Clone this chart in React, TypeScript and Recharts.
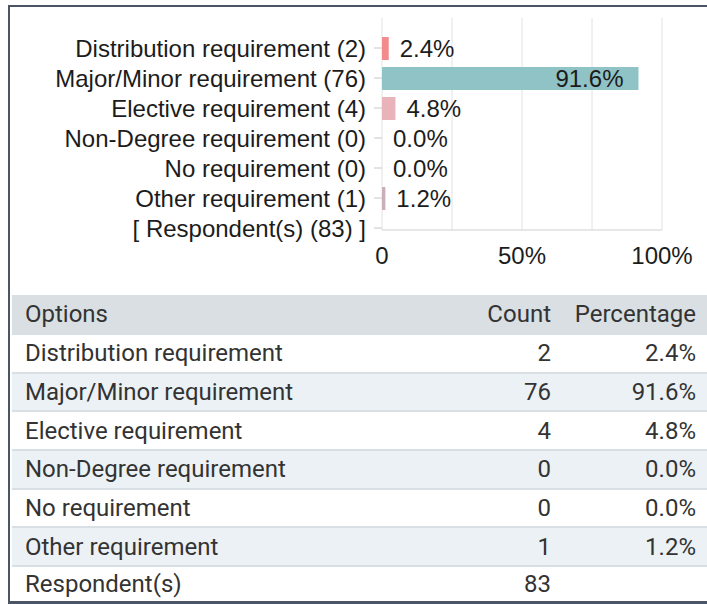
import { BarChart, Bar, XAxis, YAxis, CartesianGrid, Cell, LabelList } from 'recharts';

const options = [
  'Distribution requirement',
  'Major/Minor requirement',
  'Elective requirement',
  'Non-Degree requirement',
  'No requirement',
  'Other requirement',
];
const counts = [2, 76, 4, 0, 0, 1];
const percents = [2.4, 91.6, 4.8, 0.0, 0.0, 1.2];
const respondents = 83;
const xTicks = [0, 25, 50, 75, 100];
const xTickLabels = ['0', '', '50%', '', '100%'];

const barColors = ['#f28b8b', '#8fc3c5', '#e9b4b9', '#cccccc', '#cccccc', '#c8afbb'];
const chartFont = '"Liberation Sans", Arial, sans-serif';
const tableFont = 'Roboto, "Liberation Sans", Arial, sans-serif';

const chartData = [
  ...options.map((name, i) => ({ label: `${name} (${counts[i]})`, pct: percents[i] })),
  { label: `[ Respondent(s) (${respondents}) ]`, pct: null as number | null },
];

function PctLabel(props: any) {
  const { x, y, width, height, value } = props;
  if (value == null) return null;
  const inside = value > 50;
  const tx = inside ? x + width - 15 : x + width + 11;
  return (
    <text
      x={tx}
      y={y + height / 2}
      dy="0.36em"
      textAnchor={inside ? 'end' : 'start'}
      fontSize={24}
      fontFamily={chartFont}
      fill="#1c1c1c"
    >
      {Number(value).toFixed(1)}%
    </text>
  );
}

const rowStyle = (i: number): React.CSSProperties => ({
  display: 'flex',
  alignItems: 'center',
  height: i === options.length ? 36 : 38.67,
  boxSizing: 'border-box',
  borderTop: '2px solid #d9e0e5',
  background: i % 2 === 1 ? '#ecf1f5' : '#ffffff',
});

function Row({ name, count, pct, i }: { name: string; count: string; pct: string; i: number }) {
  return (
    <div style={rowStyle(i)}>
      <div style={{ flex: 1, paddingLeft: 13 }}>{name}</div>
      <div style={{ width: 80, textAlign: 'right' }}>{count}</div>
      <div style={{ width: 145, paddingRight: 11, textAlign: 'right' }}>{pct}</div>
    </div>
  );
}

export default function App() {
  return (
    <div
      style={{
        position: 'fixed',
        top: 5,
        left: 8,
        width: 699,
        height: 599,
        boxSizing: 'border-box',
        borderTop: '2px solid #4a5666',
        borderLeft: '2px solid #4a5666',
        borderBottom: '3px solid #4a5666',
        background: '#fff',
      }}
    >
      <BarChart
        width={697}
        height={288}
        data={chartData}
        layout="vertical"
        margin={{ top: 11, right: 45, left: 0, bottom: 0 }}
        style={{ fontFamily: chartFont }}
      >
        <CartesianGrid horizontal={false} stroke="#e2e2e2" />
        <XAxis
          type="number"
          domain={[0, 100]}
          ticks={xTicks}
          interval={0}
          tickFormatter={(v) => xTickLabels[xTicks.indexOf(v)]}
          axisLine={{ stroke: '#cfcfcf' }}
          tickLine={false}
          tickSize={6}
          tickMargin={11}
          height={65}
          tick={{ fill: '#1c1c1c', fontSize: 24, fontFamily: chartFont }}
        />
        <YAxis
          type="category"
          dataKey="label"
          width={372}
          interval={0}
          axisLine={false}
          tickLine={{ stroke: '#c8c8c8' }}
          tickSize={8}
          tickMargin={8}
          padding={{ top: 15, bottom: -13 }}
          tick={{ fill: '#1c1c1c', fontSize: 24, fontFamily: chartFont }}
        />
        <Bar
          dataKey="pct"
          barSize={23}
          minPointSize={(value: number) => (value === 0 ? 0.001 : 0)}
          isAnimationActive={false}
        >
          {chartData.map((_, i) => (
            <Cell key={`cell-${i}`} fill={barColors[i % barColors.length]} />
          ))}
          <LabelList dataKey="pct" content={PctLabel} />
        </Bar>
      </BarChart>
      <div style={{ marginLeft: 2, fontFamily: tableFont, fontSize: 24, color: '#333' }}>
        <div
          style={{
            display: 'flex',
            alignItems: 'center',
            height: 38,
            background: '#d9dfe3',
          }}
        >
          <div style={{ flex: 1, paddingLeft: 13 }}>Options</div>
          <div style={{ width: 80, textAlign: 'right' }}>Count</div>
          <div style={{ width: 145, paddingRight: 11, textAlign: 'right' }}>Percentage</div>
        </div>
        {options.map((name, i) => (
          <Row key={name} name={name} count={String(counts[i])} pct={`${percents[i].toFixed(1)}%`} i={i} />
        ))}
        <Row name="Respondent(s)" count={String(respondents)} pct="" i={options.length} />
      </div>
    </div>
  );
}
